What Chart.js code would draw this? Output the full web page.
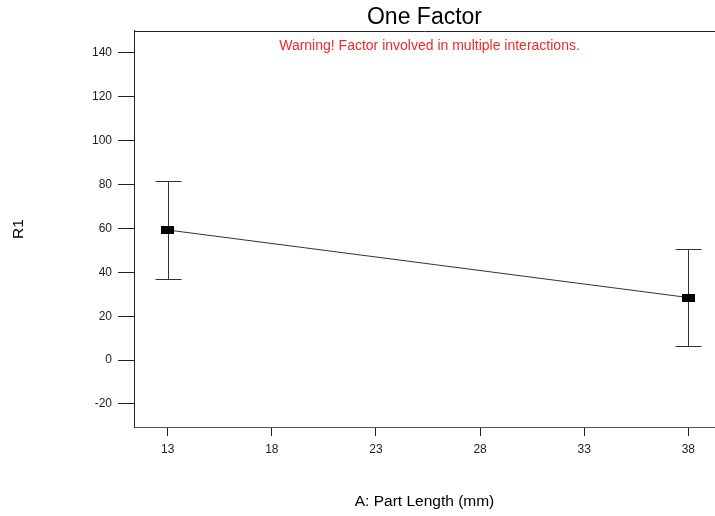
<!DOCTYPE html>
<html>
<head>
<meta charset="utf-8">
<script src="https://cdn.jsdelivr.net/npm/chart.js@4"></script>
<style>
  html, body { margin: 0; padding: 0; background: #fff; }
  #wrap { width: 715px; height: 516px; }
</style>
</head>
<body>
<div id="wrap"><canvas id="factorChart" width="715" height="516"></canvas></div>
<script>
// factor levels and predicted response
const partLength = [13, 38];
const r1Mean = [59.3, 28.5];
const r1Low = [36.9, 6.2];
const r1High = [81.6, 50.5];

const xTicks = [13, 18, 23, 28, 33, 38];
const yTicks = [-20, 0, 20, 40, 60, 80, 100, 120, 140];

const fontFamily = '"Liberation Sans", Arial, sans-serif';

// flat black rectangle used as the point marker
const marker = document.createElement('canvas');
marker.width = 13;
marker.height = 8;
const mctx = marker.getContext('2d');
mctx.fillStyle = '#000';
mctx.fillRect(0, 0, 13, 8);

// error bars from r1Low / r1High, plus top frame line and warning note
const extras = {
    id: 'extras',
    beforeDatasetsDraw(chart) {
        const ctx = chart.ctx;
        const xs = chart.scales.x;
        const ys = chart.scales.y;
        ctx.save();
        ctx.strokeStyle = '#333';
        ctx.lineWidth = 1;
        for (let i = 0; i < partLength.length; i++) {
            const x = Math.round(xs.getPixelForValue(partLength[i])) + 0.5;
            const yl = Math.round(ys.getPixelForValue(r1Low[i])) + 0.5;
            const yh = Math.round(ys.getPixelForValue(r1High[i])) + 0.5;
            ctx.beginPath();
            ctx.moveTo(x, yl);
            ctx.lineTo(x, yh);
            ctx.moveTo(x - 13, yl);
            ctx.lineTo(x + 13, yl);
            ctx.moveTo(x - 13, yh);
            ctx.lineTo(x + 13, yh);
            ctx.stroke();
        }
        ctx.restore();
    },
    afterDraw(chart) {
        const ctx = chart.ctx;
        const a = chart.chartArea;
        ctx.save();
        ctx.strokeStyle = '#222';
        ctx.lineWidth = 1;
        ctx.beginPath();
        ctx.moveTo(a.left, a.top + 0.5);
        ctx.lineTo(a.right, a.top + 0.5);
        ctx.stroke();
        ctx.fillStyle = '#ee2a2a';
        ctx.font = '14px ' + fontFamily;
        ctx.textAlign = 'center';
        ctx.textBaseline = 'middle';
        ctx.fillText('Warning! Factor involved in multiple interactions.', (a.left + a.right) / 2 + 5, 46);
        ctx.restore();
    }
};

new Chart(document.getElementById('factorChart'), {
    type: 'line',
    data: {
        datasets: [{
            data: partLength.map((x, i) => ({ x: x, y: r1Mean[i] })),
            borderColor: '#333',
            borderWidth: 1,
            pointStyle: marker,
            pointRadius: 6,
            fill: false,
            tension: 0
        }]
    },
    options: {
        responsive: false,
        animation: false,
        layout: { padding: 0, autoPadding: false },
        plugins: {
            legend: { display: false },
            tooltip: { enabled: false },
            title: {
                display: true,
                text: 'One Factor',
                fullSize: false,
                color: '#000',
                font: { family: fontFamily, size: 23, weight: 'normal' },
                padding: { top: 3.4, bottom: 0 }
            }
        },
        scales: {
            x: {
                type: 'linear',
                min: 11.38,
                max: 39.28,
                afterBuildTicks: s => { s.ticks = xTicks.map(v => ({ value: v })); },
                afterFit: s => { s.height = 89; },
                grid: { drawOnChartArea: false, tickLength: 9, color: '#222' },
                border: { color: '#555', width: 1 },
                ticks: {
                    color: '#222',
                    padding: 6,
                    font: { family: fontFamily, size: 12 }
                },
                title: {
                    display: true,
                    text: 'A: Part Length (mm)',
                    color: '#000',
                    font: { family: fontFamily, size: 15.5 },
                    padding: { top: 0, bottom: 5 }
                }
            },
            y: {
                min: -30.5,
                max: 150,
                afterBuildTicks: s => { s.ticks = yTicks.map(v => ({ value: v })); },
                afterFit: s => { s.width = 134; },
                grid: { drawOnChartArea: false, tickLength: 16, color: '#222' },
                border: { color: '#222', width: 1 },
                ticks: {
                    color: '#222',
                    padding: 6,
                    font: { family: fontFamily, size: 12 }
                },
                title: {
                    display: true,
                    text: 'R1',
                    color: '#000',
                    font: { family: fontFamily, size: 15.5 },
                    padding: { top: 9, bottom: 0 }
                }
            }
        }
    },
    plugins: [extras]
});
</script>
</body>
</html>
